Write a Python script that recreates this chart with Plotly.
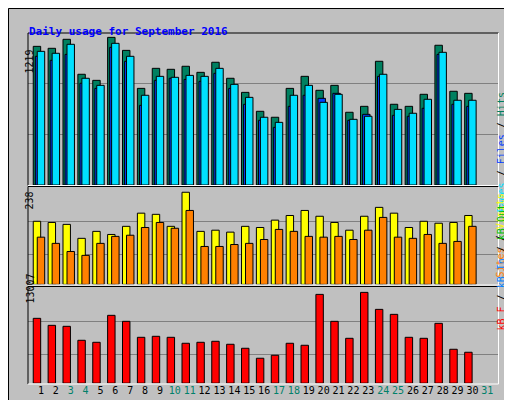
import plotly.graph_objects as go

# ----- datos -----
days = list(range(1, 32))
day_labels = [str(d) for d in days]
weekend = [3, 4, 10, 11, 17, 18, 24, 25, 31]

hits = [1142, 1126, 1200, 912, 862, 1216, 1109, 796, 961, 953, 978, 928, 1011, 879, 763,
        607, 558, 796, 895, 780, 821, 599, 648, 1019, 665, 648, 747, 1151, 772, 755]
files = [1101, 1085, 1159, 879, 821, 1167, 1060, 739, 895, 887, 903, 895, 961, 829, 722,
         558, 516, 739, 821, 681, 747, 541, 566, 912, 623, 591, 706, 1093, 698, 698]
pages = [1060, 1027, 1076, 838, 796, 1134, 1019, 656, 862, 879, 870, 854, 920, 796, 665,
         533, 475, 648, 739, 714, 755, 533, 582, 895, 574, 566, 632, 1076, 665, 648]
visits = [163, 160, 155, 119, 137, 129, 150, 184, 181, 150, 238, 137, 140, 135, 150,
          147, 166, 178, 191, 176, 160, 140, 176, 199, 184, 147, 163, 158, 160, 178]
sites = [122, 106, 85, 75, 106, 124, 127, 147, 160, 145, 191, 98, 98, 103, 106,
         116, 142, 137, 124, 122, 124, 116, 140, 173, 122, 119, 129, 106, 111, 150]
kbytes = [9290, 8289, 8147, 6146, 5860, 9719, 8861, 6574, 6717, 6574, 5717, 5860, 6003, 5574, 5002,
          3573, 4002, 5717, 5431, 12720, 8861, 6431, 13007, 10576, 9861, 6574, 6431, 8575, 4859, 4431]

x = days[:30]
W = 0.5
fig = go.Figure()

def barra(y, color, offset, yaxis):
    fig.add_trace(go.Bar(x=x, y=y, marker_color=color, width=W, offset=offset,
                         marker_line=dict(color='black', width=1), yaxis=yaxis, xaxis='x'))

barra(hits, '#008060', -0.52, 'y')
barra(pages, '#0040ff', -0.38, 'y')
barra(files, '#00e0ff', -0.25, 'y')
barra(visits, '#ffff00', -0.52, 'y2')
barra(sites, '#ff8000', -0.25, 'y2')
barra(kbytes, '#ff0000', -0.52, 'y3')

ticktext = [f'<span style="color:#00806a">{d}</span>' if d in weekend else d_l
            for d, d_l in zip(days, day_labels)]

eje = dict(showticklabels=False, ticks='', gridcolor='#808080', gridwidth=1, zeroline=False,
           showline=False, fixedrange=True)

fig.update_layout(
    width=512, height=400, margin=dict(l=0, r=0, t=0, b=0),
    paper_bgcolor='#c0c0c0', plot_bgcolor='#c0c0c0', showlegend=False, barmode='overlay',
    font=dict(family='DejaVu Sans Mono', size=11, color='black'),
    xaxis=dict(domain=[20/512, 490/512], range=[0.128, 31.72], tickvals=days, ticktext=ticktext,
               showgrid=False, zeroline=False, ticks='', tickangle=0, ticklen=0,
               tickfont=dict(size=10), anchor='y3'),
    yaxis=dict(domain=[0.5575, 0.9375], range=[0, 1252], tickvals=[412, 832], **eje),
    yaxis2=dict(domain=[0.309, 0.55], range=[0, 249], tickvals=[78, 162], **eje),
    yaxis3=dict(domain=[0.062, 0.299], range=[0, 13578], tickvals=[4144, 8860], **eje),
)

annots = [
    dict(x=19/512, y=1-15/400, text='<b>Daily usage for September 2016</b>', xanchor='left',
         font=dict(size=11, color='#0000ff')),
    dict(x=14/512, y=1-40/400, text='1219', textangle=-90, font=dict(size=10)),
    dict(x=14/512, y=1-193/400, text='238', textangle=-90, font=dict(size=10)),
    dict(x=14/512, y=1-298/400, text='13007', textangle=-90, font=dict(size=10)),
    dict(x=500/512, y=1-83/400, textangle=-90, font=dict(size=10),
         text='<span style="color:#00e0ff">Pages</span> / <span style="color:#0040ff">Files</span>'
              ' / <span style="color:#008060">Hits</span>'),
    dict(x=500/512, y=1-228/400, textangle=-90, font=dict(size=10),
         text='<span style="color:#ff8000">Sites</span> / <span style="color:#ffff00">Visits</span>'),
    dict(x=500/512, y=1-325/400, textangle=-90, font=dict(size=10),
         text='<span style="color:#ff0000">kB F</span> / <span style="color:#0080ff">kB In</span>'
              ' / <span style="color:#00c000">kB Out</span>'),
]
for a in annots:
    a.update(xref='paper', yref='paper', showarrow=False)
    fig.add_annotation(**a)

# marcos
def linea(x0, y0, x1, y1, color, w=1):
    fig.add_shape(type='line', xref='paper', yref='paper', x0=x0/512, y0=1-y0/400,
                  x1=x1/512, y1=1-y1/400, line=dict(color=color, width=w))

for top, bot in [(25, 177.5), (178.5, 277), (278.5, 376)]:
    linea(20, top, 490.5, top, 'black')
    linea(20, top, 20, bot, 'black')
    linea(490.5, top, 490.5, bot, 'white')
    linea(20, bot, 490.5, bot, 'white')
linea(0.5, 0.5, 507, 0.5, 'black')
linea(0.5, 0.5, 0.5, 396, 'black')
linea(508.5, 3, 508.5, 397, '#808080', 3)
linea(3, 397.5, 508.5, 397.5, '#808080', 3)

fig.write_html("out.html")
